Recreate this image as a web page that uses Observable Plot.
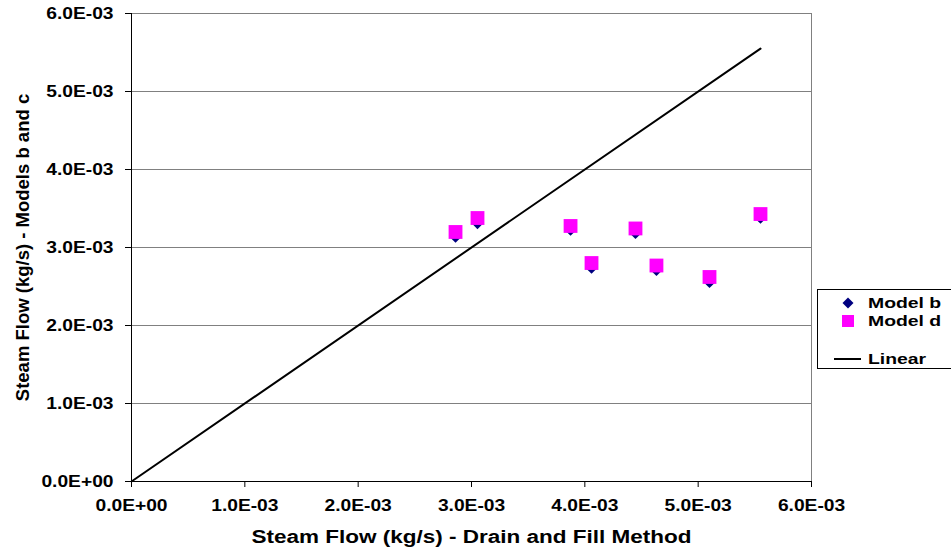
<!DOCTYPE html>
<html>
<head>
<meta charset="utf-8">
<script src="https://cdn.jsdelivr.net/npm/d3@7"></script>
<script src="https://cdn.jsdelivr.net/npm/@observablehq/plot@0.6"></script>
<style>
  body { margin: 0; background: #fff; }
  #wrap { position: relative; width: 951px; height: 550px; font-family: Arial, "Liberation Sans", sans-serif; }
  g[aria-label="x-axis label"] text { font-size: 18px !important; }
  g[aria-label="y-axis label"] text { font-size: 18.5px !important; }
  g[aria-label="x-axis tick label"] text, g[aria-label="y-axis tick label"] text { font-size: 16px !important; }
  #legend { position: absolute; left: 817px; top: 289px; width: 140px; height: 78px; border: 1px solid #000; background: #fff;
    font: bold 15.5px Arial, "Liberation Sans", sans-serif; color: #000; }
  .li { position: absolute; left: 0; display: flex; align-items: center; }
  .li span { display: inline-block; transform: scaleX(1.25); transform-origin: left center; }
</style>
</head>
<body>
<div id="wrap"></div>
<script>
const drainFill = [2.859e-3, 3.053e-3, 3.874e-3, 4.059e-3, 4.447e-3, 4.632e-3, 5.100e-3, 5.550e-3];
const modelB    = [3.126e-3, 3.301e-3, 3.215e-3, 2.728e-3, 3.173e-3, 2.699e-3, 2.545e-3, 3.369e-3];
const modelD    = [3.199e-3, 3.378e-3, 3.276e-3, 2.801e-3, 3.244e-3, 2.769e-3, 2.622e-3, 3.429e-3];
const linearX   = [0, 5.55e-3];
const ticks     = [0, 1e-3, 2e-3, 3e-3, 4e-3, 5e-3, 6e-3];

function fmt(v) {
  if (v === 0) return "0.0E+00";
  const e = Math.floor(Math.log10(Math.abs(v)) + 1e-9);
  const m = v / Math.pow(10, e);
  const sign = e < 0 ? "-" : "+";
  return m.toFixed(1) + "E" + sign + String(Math.abs(e)).padStart(2, "0");
}

const bData = drainFill.map((x, i) => ({x, y: modelB[i]}));
const dData = drainFill.map((x, i) => ({x, y: modelD[i]}));
const lData = linearX.map(x => ({x, y: x}));

const chart = Plot.plot({
  width: 951,
  height: 550,
  marginLeft: 131,
  marginRight: 140,
  marginTop: 13,
  marginBottom: 69,
  style: { fontFamily: "Arial, 'Liberation Sans', sans-serif", fontWeight: "bold", fontSize: "14px", color: "#000", background: "#fff" },
  x: { domain: [0, 6e-3] },
  y: { domain: [0, 6e-3] },
  marks: [
    Plot.gridY(ticks, { stroke: "#808080", strokeOpacity: 1, strokeWidth: 1 }),
    Plot.frame({ stroke: "#808080", strokeWidth: 1 }),
    Plot.ruleX([0], { stroke: "#000", strokeWidth: 1 }),
    Plot.ruleY([0], { stroke: "#000", strokeWidth: 1 }),
    Plot.axisX({ ticks, tickFormat: fmt, tickSize: 6, tickPadding: 12, fontSize: 16, label: "Steam Flow (kg/s) - Drain and Fill Method", labelAnchor: "center", labelArrow: "none", labelOffset: 61 }),
    Plot.axisY({ ticks, tickFormat: fmt, tickSize: 6, tickPadding: 12, fontSize: 16, label: "Steam Flow (kg/s) - Models b and c", labelAnchor: "center", labelArrow: "none", labelOffset: 116 }),
    Plot.line(lData, { x: "x", y: "y", stroke: "#000", strokeWidth: 2 }),
    Plot.dot(bData, { x: "x", y: "y", symbol: "diamond2", r: 4.6, fill: "#000080", stroke: "none" }),
    Plot.dot(dData, { x: "x", y: "y", symbol: "square", r: 7.8, fill: "#FF00FF", stroke: "none" })
  ]
});

const wrap = document.getElementById("wrap");
wrap.appendChild(chart);

// The reference's text is horizontally stretched; reproduce with textLength (keeps anchors).
function stretch(el, sx) {
  const w = el.getComputedTextLength();
  if (w > 0) {
    el.setAttribute("textLength", (w * sx).toFixed(2));
    el.setAttribute("lengthAdjust", "spacingAndGlyphs");
  }
}
d3.select(chart).selectAll('g[aria-label="x-axis tick label"] text, g[aria-label="y-axis tick label"] text').each(function() { stretch(this, 1.2); });
d3.select(chart).selectAll('g[aria-label="x-axis label"] text').each(function() { stretch(this, 1.25); });

const legend = document.createElement("div");
legend.id = "legend";
legend.innerHTML = `
  <div class="li" style="top:4px;"><svg width="50" height="18"><path d="M30,3.5 L35.5,9 L30,14.5 L24.5,9 Z" fill="#000080"/></svg><span>Model b</span></div>
  <div class="li" style="top:22px;"><svg width="50" height="18"><rect x="24" y="3" width="12" height="12" fill="#FF00FF"/></svg><span>Model d</span></div>
  <div class="li" style="top:60px;"><svg width="50" height="18"><line x1="16" y1="9" x2="43" y2="9" stroke="#000" stroke-width="2"/></svg><span>Linear</span></div>
`;
wrap.appendChild(legend);
</script>
</body>
</html>
